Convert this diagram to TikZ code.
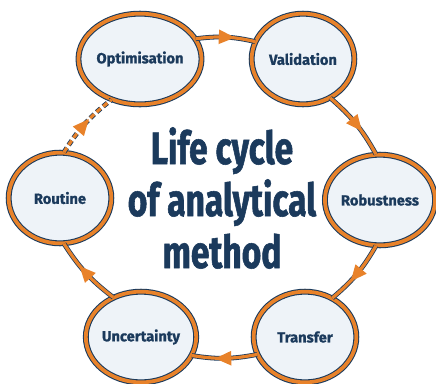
\documentclass[tikz,border=0pt]{standalone}
\usepackage{fontspec}
\setmainfont{Fira Sans}
\newfontfamily\titlefont{Fira Sans}[FakeStretch=0.74, FakeBold=1.2]
\newfontfamily\labelfont{Fira Sans}[FakeBold=1]
\usepackage{tikz}
\usetikzlibrary{shapes.geometric, decorations.markings}
\definecolor{navy}{HTML}{1B3A5C}
\definecolor{lcorange}{HTML}{E8822A}
\definecolor{lcfill}{HTML}{EEF3F8}
\tikzset{
  stage/.style={ellipse, draw=navy, line width=0.8pt, double=lcorange, double distance=2.8pt,
    fill=lcfill, minimum width=77pt, minimum height=68pt, inner sep=0pt,
    font=\labelfont\bfseries\fontsize{11}{13}\selectfont, text=navy},
  flow/.style={draw=navy, line width=0.6pt, double=lcorange, double distance=2.4pt,
    postaction={decorate, decoration={markings, mark=at position #1 with
      {\fill[lcorange] (7pt,0) -- (-5pt,5.5pt) -- (-5pt,-5.5pt) -- cycle;}}}},
  flow/.default=0.5
}
\begin{document}
\begin{tikzpicture}[x=0.75pt, y=-0.75pt]
    \useasboundingbox (0,0) rectangle (436,383);
    % Etapas del ciclo
    \node[stage] (opt) at (140,59) {Optimisation};
    \node[stage] (val) at (303,59) {Validation};
    \node[stage] (rob) at (380,200) {Robustness};
    \node[stage] (tra) at (305,337) {Transfer};
    \node[stage] (unc) at (141,337) {Uncertainty};
    \node[stage] (rou) at (60,198) {Routine};
    % Flechas entre etapas
    \foreach \a/\b/\s/\t in {opt/val/20/160, val/rob/-55/95, rob/tra/-95/55,
                             tra/unc/-160/-20, unc/rou/125/-85} {
        \draw[flow] (\a.\s) to[bend left=10] (\b.\t);
    }
    \draw[flow=0.45, dash pattern=on 4pt off 2.5pt] (rou.85) to[bend left=10] (opt.-125);
    % Titulo central
    \node[font=\titlefont\bfseries\fontsize{34}{39}\selectfont, text=navy, align=center]
        (title) at (222,198) {Life cycle\\of analytical\\method};
\end{tikzpicture}
\end{document}
